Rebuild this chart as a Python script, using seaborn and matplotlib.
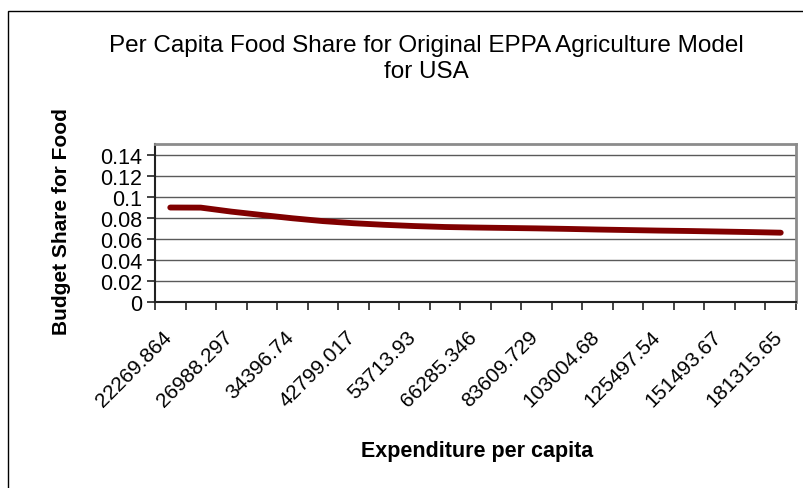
import numpy as np
import matplotlib
matplotlib.use("Agg")
import matplotlib.pyplot as plt
import matplotlib.transforms as mtransforms
import seaborn as sns
from matplotlib.patches import Rectangle
from matplotlib.ticker import FixedLocator

# Data (21 categories, every other label shown)
expenditure_labels = ["22269.864", "26988.297", "34396.74", "42799.017", "53713.93",
                      "66285.346", "83609.729", "103004.68", "125497.54", "151493.67",
                      "181315.65"]
food_share = [0.0897, 0.0896, 0.0858, 0.0826, 0.0795, 0.0768, 0.0748, 0.0733,
              0.0721, 0.0712, 0.0707, 0.0703, 0.0699, 0.0694, 0.0688, 0.0683,
              0.0678, 0.0674, 0.0669, 0.0664, 0.0658]
y_ticks = [0, 0.02, 0.04, 0.06, 0.08, 0.1, 0.12, 0.14]
y_tick_labels = ["0", "0.02", "0.04", "0.06", "0.08", "0.1", "0.12", "0.14"]

sns.set_style("white")
plt.rcParams["font.family"] = ["Liberation Sans", "DejaVu Sans"]
plt.rcParams["text.color"] = "black"
plt.rcParams["xtick.color"] = "black"
plt.rcParams["ytick.color"] = "black"

W, H = 804, 489
fig = plt.figure(figsize=(W / 100, H / 100), dpi=100)
ax = fig.add_axes([155 / W, 1 - 303 / H, (796 - 155) / W, (303 - 145) / H])

idx = np.arange(len(food_share))
sns.lineplot(x=idx, y=food_share, ax=ax, color="#800000", linewidth=4.2,
             solid_capstyle="round", solid_joinstyle="round")

n = len(food_share)
ax.set_xlim(-0.5, n - 0.5)
ax.set_ylim(0, 0.15)

# y axis
ax.set_yticks(y_ticks)
ax.set_yticklabels(y_tick_labels, fontsize=15.5)
ax.yaxis.grid(True, color="#5a5a5a", linewidth=1.0)
ax.set_axisbelow(True)

# x axis: labels under every other category, tick marks at boundaries
ax.set_xticks(idx[::2])
ax.xaxis.set_minor_locator(FixedLocator(np.arange(-0.5, n, 1.0)))
ax.tick_params(axis="x", which="major", length=0, pad=12)
ax.tick_params(axis="x", which="minor", length=6, width=1.2, color="#222222",
               direction="out", bottom=True)
ax.tick_params(axis="y", which="major", length=6, width=1.2, color="#222222",
               direction="out", left=True, pad=3)
ax.set_xticklabels(expenditure_labels, fontsize=15, rotation=45,
                   ha="right", rotation_mode="anchor")
shift = mtransforms.ScaledTranslation(-8 / 100, -8 / 100, fig.dpi_scale_trans)
for lab in ax.get_xticklabels():
    lab.set_transform(lab.get_transform() + shift)

for side in ["left", "bottom"]:
    ax.spines[side].set_color("#222222")
    ax.spines[side].set_linewidth(1.5)
for side in ["top", "right"]:
    ax.spines[side].set_color("#8c8c8c")
    ax.spines[side].set_linewidth(2.0)

fig.text(426 / W, 1 - 59 / H,
         "Per Capita Food Share for Original EPPA Agriculture Model\nfor USA",
         ha="center", va="center", fontsize=17.5, linespacing=1.2)
fig.text(62 / W, 1 - 222 / H, "Budget Share for Food", rotation=90,
         ha="center", va="center", fontsize=15, fontweight="bold")
fig.text(477 / W, 1 - 452 / H, "Expenditure per capita",
         ha="center", va="center", fontsize=15.5, fontweight="bold")

# chart-area frame
fig.patches.append(Rectangle((8 / W, -0.1), 1.2, 1 - 12 / H + 0.1,
                             transform=fig.transFigure, fill=False,
                             edgecolor="black", linewidth=1.0))

fig.savefig("out.png", dpi=100)
